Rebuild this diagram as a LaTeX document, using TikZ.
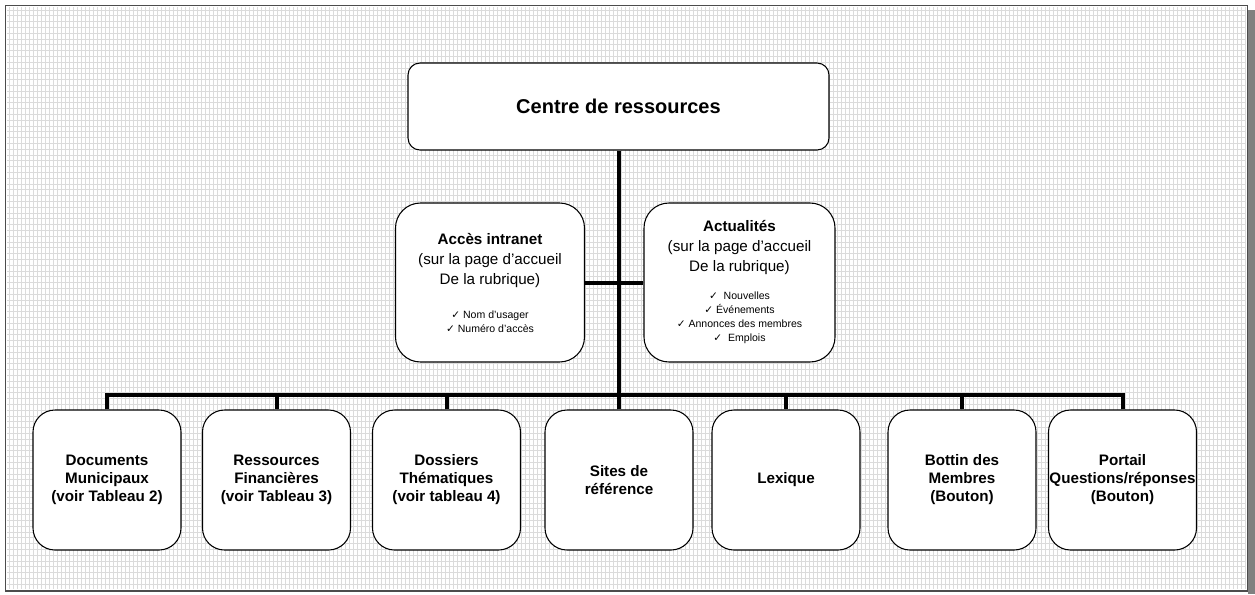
\documentclass[tikz,border=0pt]{standalone}
\usepackage{fontspec}
\setmainfont{Liberation Sans}
\newfontfamily\symfont{DejaVu Sans}
\usetikzlibrary{positioning}

\newcommand\chkmark{{\symfont\char"2713}}

\tikzset{
  gridline/.style={draw=black!14, line width=0.6pt},
  frame/.style={draw=black!70, line width=1.1pt},
  link/.style={draw=black, line width=3pt},
  topbox/.style={draw=black, line width=0.8pt, fill=white, rounded corners=9pt,
    minimum width=315.75pt, minimum height=65.25pt, align=center, inner sep=0pt,
    font=\bfseries\fontsize{15}{18}\selectfont},
  midbox/.style={draw=black, line width=0.8pt, fill=white, rounded corners=18.75pt,
    minimum width=141.75pt, minimum height=119.25pt, align=center, inner sep=0pt,
    font=\fontsize{11.4}{15}\selectfont},
  subbox/.style={draw=black, line width=0.8pt, fill=white, rounded corners=16.5pt,
    minimum width=111pt, minimum height=105pt, align=center, inner sep=0pt,
    font=\bfseries\fontsize{11.4}{13.5}\selectfont}
}

\begin{document}
\begin{tikzpicture}[x=0.75pt, y=-0.75pt]

\useasboundingbox (0,0) rectangle (1255,594);

% BACKGROUND
\fill[white] (0,0) rectangle (1255,594);
\draw[gridline] foreach \gx in {9,13,...,1245} {(\gx,7) -- (\gx,589)};
\draw[gridline] foreach \gy in {10,15.8,...,588} {(7,\gy) -- (1246,\gy)};
\fill[black!50] (1248,10) rectangle (1255,594);
\draw[frame] (5.5,5.5) rectangle (1247.5,591);

% BOXES
\node[topbox] (centre) at (618.5,106.5) {Centre de ressources};

\node[midbox] (acces) at (490,282.5) {{\bfseries Accès intranet}\\
  (sur la page d’accueil\\De la rubrique)\\[10.5pt]
  {\fontsize{7.9}{10.5}\selectfont\chkmark\ Nom d’usager}\\[-4.5pt]
  {\fontsize{7.9}{10.5}\selectfont\chkmark\ Numéro d’accès}};

\node[midbox, minimum width=143.25pt] (actu) at (739.5,282.5) {{\bfseries Actualités}\\
  (sur la page d’accueil\\De la rubrique)\\[6pt]
  {\fontsize{7.9}{10.5}\selectfont\chkmark\ \ Nouvelles}\\[-4.5pt]
  {\fontsize{7.9}{10.5}\selectfont\chkmark\ Événements}\\[-4.5pt]
  {\fontsize{7.9}{10.5}\selectfont\chkmark\ Annonces des membres}\\[-4.5pt]
  {\fontsize{7.9}{10.5}\selectfont\chkmark\ \ Emplois}};

\node[subbox] (docs) at (107,480) {Documents\\Municipaux\\(voir Tableau 2)};
\node[subbox] (fin) at (276.5,480) {Ressources\\Financières\\(voir Tableau 3)};
\node[subbox] (doss) at (446.5,480) {Dossiers\\Thématiques\\(voir tableau 4)};
\node[subbox] (sites) at (619,480) {Sites de\\référence};
\node[subbox] (lex) at (786,480) {Lexique};
\node[subbox] (bottin) at (962,480) {Bottin des\\Membres\\(Bouton)};
\node[subbox] (portail) at (1122.5,480) {Portail\\Questions/réponses\\(Bouton)};

% LINKS
\coordinate (bus) at (618.5,395);
\draw[link] (centre.south) -- (bus);
\draw[link] (acces.east) -- (actu.west);
\draw[link, line cap=rect] (docs.north |- bus) -- (portail.north |- bus);
\foreach \n in {docs,fin,doss,sites,lex,bottin,portail}
  \draw[link] (\n.north |- bus) -- (\n.north);

\end{tikzpicture}
\end{document}
